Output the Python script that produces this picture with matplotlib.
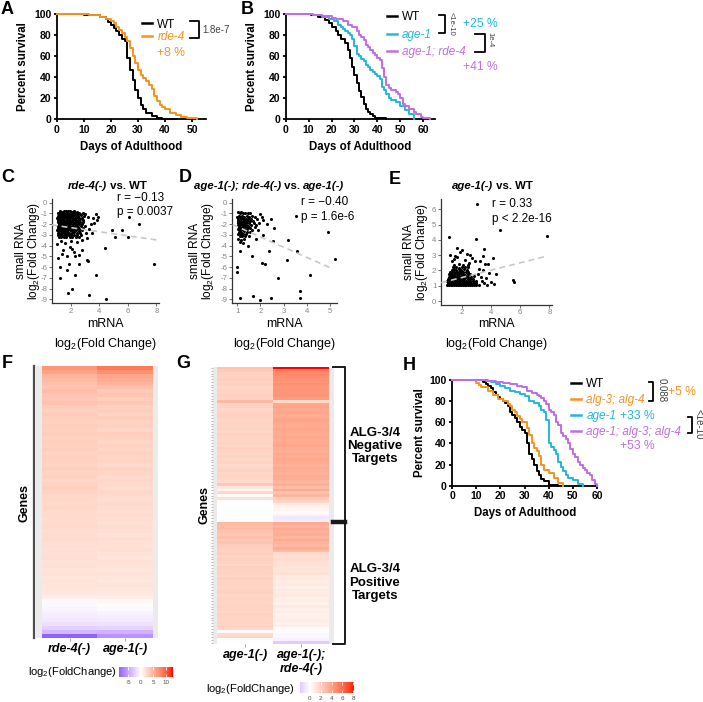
import numpy as np
import matplotlib
matplotlib.use('Agg')
import matplotlib.pyplot as plt
from matplotlib.colors import ListedColormap, Normalize
from matplotlib.cm import ScalarMappable

plt.rcParams['font.family'] = ['Liberation Sans', 'DejaVu Sans']
plt.rcParams['mathtext.fontset'] = 'custom'
plt.rcParams['mathtext.rm'] = 'Liberation Sans'
plt.rcParams['mathtext.it'] = 'Liberation Sans:italic'
plt.rcParams['mathtext.bf'] = 'Liberation Sans:bold'
plt.rcParams['axes.unicode_minus'] = False

ORANGE = '#F7931E'
CYAN = '#22B8DD'
PURPLE = '#C06EE5'

# ---- survival data (day, percent alive) ----
a_wt_days = [0, 10, 14, 16, 18, 19, 20, 21, 22, 23, 24, 25, 26, 27, 28, 29, 30, 31, 32, 33, 35, 37, 39, 44]
a_wt_surv = [100, 99.5, 99, 97, 95, 92, 90, 87, 84, 80, 76, 74, 58, 47, 37, 28, 20, 14, 10, 6, 3, 1.5, 0.5, 0]
a_rde_days = [0, 12, 16, 18, 20, 21, 22, 23, 24, 25, 26, 27, 28, 29, 30, 31, 32, 33, 34, 35, 36, 37, 38, 39, 40, 42, 44, 46, 48, 52]
a_rde_surv = [100, 99, 97, 95, 93, 91, 88, 85, 82, 78, 74, 68, 60, 53, 47, 42, 39, 36, 33, 29, 22, 17, 14, 12, 10, 6, 4, 2, 1, 0]

b_wt_days = [0, 11, 14, 17, 19, 20, 22, 23, 24, 26, 27, 28, 29, 30, 31, 32, 33, 34, 35, 36, 37, 38, 39, 40, 44]
b_wt_surv = [100, 99, 97, 94, 91, 88, 84, 80, 76, 72, 66, 58, 50, 42, 34, 27, 21, 15, 10, 7, 5, 3, 1.5, 0.8, 0]
b_age_days = [0, 12, 16, 19, 21, 23, 24, 25, 26, 27, 28, 29, 30, 31, 32, 33, 34, 35, 36, 37, 38, 39, 40, 41, 42, 43, 44, 45, 46, 48, 50, 52, 54, 56]
b_age_surv = [100, 99, 97, 95, 93, 90, 88, 86, 84, 82, 80, 76, 70, 62, 60, 57, 55, 52, 50, 47, 45, 43, 41, 38, 31, 28, 24, 20, 18, 16, 13, 9, 5, 0]
b_dbl_days = [0, 12, 16, 20, 22, 25, 27, 29, 31, 32, 33, 34, 35, 36, 37, 38, 39, 40, 41, 42, 43, 44, 45, 46, 48, 49, 50, 51, 52, 54, 56, 57, 59, 60, 63]
b_dbl_surv = [100, 99.5, 98, 96, 95, 93, 90, 88, 84, 80, 78, 75, 71, 69, 66, 63, 61, 58, 56, 49, 40, 33, 30, 28, 26, 24, 20, 15, 13, 10, 7, 5, 2, 1, 0]

h_wt_days = [0, 13, 14, 15, 16, 17, 18, 19, 20, 21, 22, 23, 24, 25, 26, 27, 28, 29, 30, 31, 32, 33, 34, 35, 36, 37, 38, 40, 44]
h_wt_surv = [100, 98, 96, 94, 92, 89, 86, 84, 82, 80, 78, 75, 70, 67, 64, 60, 56, 53, 50, 40, 30, 25, 20, 14, 10, 6, 4, 1, 0]
h_alg_days = [0, 10, 11, 12, 15, 17, 19, 21, 23, 24, 25, 26, 27, 28, 29, 31, 32, 33, 34, 35, 36, 37, 38, 40, 42, 44, 46]
h_alg_surv = [100, 97, 95, 93, 90, 86, 82, 80, 77, 75, 72, 70, 66, 63, 60, 55, 48, 40, 36, 33, 28, 20, 15, 12, 7, 3, 0]
h_age_days = [0, 14, 16, 18, 20, 22, 24, 26, 28, 30, 32, 34, 36, 37, 38, 39, 40, 41, 42, 43, 44, 45, 46, 47, 48, 50, 52, 54]
h_age_surv = [100, 99, 98, 96, 94, 92, 90, 89, 87, 85, 80, 78, 75, 72, 70, 62, 40, 37, 34, 30, 22, 18, 14, 10, 7, 5, 2, 0]
h_dbl_days = [0, 15, 18, 21, 24, 27, 29, 31, 33, 35, 36, 37, 38, 39, 40, 41, 42, 43, 44, 45, 46, 47, 48, 49, 50, 51, 52, 53, 54, 55, 56, 57, 58, 59, 60]
h_dbl_surv = [100, 99, 98, 97, 96, 94, 93, 90, 88, 86, 85, 83, 80, 77, 72, 70, 67, 60, 57, 50, 47, 44, 40, 35, 30, 27, 22, 20, 17, 15, 12, 10, 5, 2, 0]

# ---- scatter data (mRNA log2FC, small RNA log2FC) ----
c_pts = [
    (1.22, -0.78), (1.36, -0.85), (1.5, -0.8), (1.64, -0.76), (1.79, -0.83), (1.93, -0.79), (2.08, -0.86), (2.24, -0.8), (2.4, -0.9), (2.6, -0.95),
    (1.08, -1.02), (1.19, -0.98), (1.31, -1.05), (1.44, -1.0), (1.57, -1.03), (1.71, -0.97), (1.85, -1.04), (1.99, -1.0), (2.13, -1.06), (2.28, -0.99), (2.44, -1.03), (2.62, -1.08),
    (1.12, -1.22), (1.25, -1.18), (1.38, -1.24), (1.51, -1.2), (1.65, -1.16), (1.78, -1.23), (1.92, -1.19), (2.06, -1.25), (2.2, -1.2), (2.35, -1.17), (2.52, -1.24), (2.7, -1.2), (2.95, -1.25),
    (1.05, -1.4), (1.17, -1.43), (1.3, -1.38), (1.43, -1.42), (1.56, -1.39), (1.7, -1.44), (1.84, -1.4), (1.98, -1.37), (2.13, -1.43), (2.28, -1.4), (2.44, -1.36), (2.6, -1.42), (2.78, -1.45),
    (1.1, -1.6), (1.23, -1.57), (1.36, -1.63), (1.49, -1.59), (1.62, -1.62), (1.76, -1.58), (1.9, -1.64), (2.04, -1.6), (2.19, -1.57), (2.34, -1.63), (2.5, -1.6), (2.66, -1.56), (2.88, -1.62),
    (1.07, -1.82), (1.2, -1.78), (1.33, -1.8), (1.46, -1.84), (1.6, -1.79), (1.73, -1.83), (1.87, -1.78), (2.01, -1.81), (2.16, -1.85), (2.31, -1.79), (2.47, -1.82), (2.64, -1.78), (2.85, -1.84),
    (1.13, -2.0), (1.26, -2.04), (1.4, -1.98), (1.54, -2.02), (1.68, -1.97), (1.82, -2.03), (1.96, -1.99), (2.11, -2.04), (2.26, -2.0), (2.42, -1.97), (2.59, -2.03), (2.77, -2.0),
    (1.06, -2.2), (1.19, -2.23), (1.33, -2.18), (1.47, -2.22), (1.61, -2.19), (1.75, -2.24), (1.89, -2.2), (2.04, -2.17), (2.19, -2.23), (2.35, -2.2), (2.52, -2.25), (2.71, -2.19), (3.0, -2.22),
    (1.1, -2.4), (1.24, -2.44), (1.38, -2.38), (1.52, -2.42), (1.66, -2.4), (1.8, -2.45), (1.95, -2.39), (2.1, -2.43), (2.26, -2.4), (2.42, -2.37), (2.6, -2.43), (2.85, -2.4),
    (1.05, -2.6), (1.18, -2.63), (1.32, -2.58), (1.46, -2.62), (1.6, -2.6), (1.75, -2.65), (1.9, -2.59), (2.05, -2.63), (2.21, -2.6), (2.38, -2.56), (2.58, -2.62), (2.8, -2.6),
    (1.12, -2.8), (1.27, -2.84), (1.42, -2.78), (1.57, -2.82), (1.72, -2.79), (1.88, -2.85), (2.04, -2.8), (2.2, -2.77), (2.4, -2.83), (2.62, -2.8), (3.05, -2.86),
    (1.08, -3.0), (1.22, -3.04), (1.37, -2.98), (1.53, -3.03), (1.69, -3.0), (1.85, -3.05), (2.02, -2.99), (2.2, -3.02), (2.45, -3.0), (2.7, -3.06),
    (1.15, -3.2), (1.32, -3.24), (1.5, -3.18), (1.68, -3.22), (1.9, -3.25), (2.1, -3.2), (2.35, -3.23), (2.6, -3.2),
    (2.84, -0.93), (3.0, -1.1), (3.2, -1.3), (3.55, -1.4), (3.75, -1.05), (3.8, -1.6), (3.65, -1.9), (3.9, -1.3), (6.1, -1.37), (6.8, -2.0),
    (4.9, -2.6), (5.1, -3.2), (5.6, -2.6), (6.0, -3.2), (4.4, -4.2), (3.2, -5.4), (7.85, -5.7), (1.23, -7.05), (1.82, -8.45), (2.1, -8.0),
    (3.3, -8.6), (4.45, -9.0), (3.75, -6.75), (2.3, -6.75), (1.7, -6.3), (1.23, -5.96), (2.56, -5.75), (3.1, -5.3), (2.3, -5.0), (1.7, -5.0),
    (2.75, -4.4), (1.47, -4.4), (1.12, -5.2), (1.3, -3.6), (1.6, -3.8), (2.0, -3.55), (2.4, -3.7), (2.8, -3.5), (3.1, -3.3), (3.3, -2.5),
    (3.4, -2.0), (1.9, -4.1), (2.2, -4.6), (1.35, -4.8), (2.6, -4.9), (1.05, -3.9), (1.85, -5.7), (2.05, -4.3), (3.5, -2.8),
]
c_fit_x = [0.65, 8.0]
c_fit_y = [-2.08, -3.48]

d_pts = [
    (1.02, -0.92), (1.1, -0.98), (1.18, -0.9), (1.26, -1.0), (1.35, -0.95), (1.45, -1.02), (1.55, -0.97),
    (1.0, -1.3), (1.08, -1.25), (1.15, -1.32), (1.22, -1.27), (1.3, -1.33), (1.4, -1.28), (1.5, -1.31), (1.62, -1.26), (1.75, -1.34), (2.05, -1.3),
    (1.04, -1.5), (1.12, -1.55), (1.2, -1.48), (1.28, -1.53), (1.36, -1.5), (1.46, -1.56), (1.58, -1.5), (1.85, -1.53), (2.12, -1.6),
    (1.01, -1.7), (1.09, -1.74), (1.17, -1.68), (1.25, -1.72), (1.33, -1.7), (1.42, -1.75), (1.53, -1.69), (1.66, -1.73),
    (1.05, -1.9), (1.13, -1.94), (1.21, -1.88), (1.3, -1.92), (1.39, -1.9), (1.5, -1.95), (1.7, -1.9), (1.95, -1.93),
    (1.02, -2.1), (1.1, -2.13), (1.19, -2.08), (1.28, -2.12), (1.38, -2.1), (1.48, -2.15), (1.6, -2.09), (1.8, -2.12),
    (1.06, -2.3), (1.15, -2.33), (1.24, -2.28), (1.34, -2.32), (1.45, -2.3), (1.57, -2.35), (1.75, -2.3),
    (1.03, -2.5), (1.12, -2.54), (1.21, -2.48), (1.32, -2.52), (1.44, -2.5), (1.62, -2.55),
    (1.08, -2.7), (1.18, -2.74), (1.28, -2.68), (1.4, -2.72), (1.55, -2.7),
    (1.05, -2.9), (1.15, -2.94), (1.26, -2.88), (1.38, -2.92),
    (1.1, -3.1), (1.22, -3.15), (1.35, -3.08), (1.5, -3.12),
    (1.04, -3.4), (1.18, -3.45), (1.3, -3.38), (1.12, -3.7), (1.25, -3.75),
    (2.58, -2.4), (2.52, -3.6), (3.2, -3.5), (3.56, -4.47), (2.37, -4.47), (3.16, -5.34), (1.62, -5.0), (1.1, -4.5), (1.0, -5.96), (0.97, -6.5),
    (4.93, -2.7), (5.22, -5.28), (2.08, -5.65), (2.2, -5.7), (2.74, -7.05), (4.13, -6.74), (3.7, -8.2), (3.7, -8.9), (1.1, -8.9), (1.68, -8.7),
    (2.0, -9.07), (2.45, -8.9), (3.53, -1.24), (2.3, -2.0), (2.45, -1.55), (1.9, -2.6), (2.1, -3.0), (1.45, -4.0), (1.8, -3.4), (2.0, -1.1),
]
d_fit_x = [0.8, 5.1]
d_fit_y = [-2.06, -6.15]

e_pts = [
    (1.0, 1.04), (1.12, 1.02), (1.24, 1.05), (1.36, 1.03), (1.48, 1.06), (1.6, 1.02), (1.72, 1.04), (1.84, 1.05), (1.96, 1.02), (2.08, 1.04),
    (2.2, 1.06), (2.32, 1.03), (2.44, 1.05), (2.56, 1.02), (2.7, 1.04), (2.85, 1.06), (3.0, 1.03), (3.2, 1.05),
    (1.05, 1.17), (1.18, 1.2), (1.31, 1.15), (1.44, 1.18), (1.57, 1.16), (1.7, 1.21), (1.83, 1.17), (1.96, 1.14), (2.09, 1.19), (2.22, 1.16),
    (2.35, 1.2), (2.5, 1.15), (2.65, 1.18), (2.82, 1.16), (3.0, 1.19),
    (1.0, 1.3), (1.13, 1.33), (1.26, 1.28), (1.39, 1.32), (1.52, 1.3), (1.65, 1.34), (1.78, 1.29), (1.91, 1.31), (2.04, 1.28), (2.17, 1.33),
    (2.3, 1.3), (2.45, 1.27), (2.6, 1.32), (2.78, 1.3), (2.95, 1.33),
    (1.05, 1.45), (1.18, 1.48), (1.31, 1.43), (1.44, 1.47), (1.57, 1.45), (1.7, 1.49), (1.83, 1.44), (1.96, 1.46), (2.1, 1.43), (2.24, 1.48),
    (2.4, 1.45), (2.56, 1.42), (2.75, 1.47),
    (1.1, 1.6), (1.23, 1.63), (1.36, 1.58), (1.49, 1.62), (1.62, 1.6), (1.75, 1.64), (1.88, 1.59), (2.02, 1.61), (2.16, 1.58), (2.3, 1.63),
    (2.46, 1.6), (2.62, 1.57), (2.85, 1.62),
    (1.1, 1.75), (1.24, 1.78), (1.38, 1.73), (1.52, 1.77), (1.66, 1.75), (1.8, 1.79), (1.94, 1.74), (2.08, 1.76), (2.24, 1.73), (2.4, 1.78), (2.58, 1.75),
    (1.2, 1.9), (1.35, 1.93), (1.5, 1.88), (1.65, 1.92), (1.8, 1.9), (1.95, 1.94), (2.1, 1.89), (2.26, 1.91), (2.45, 1.88),
    (1.3, 2.05), (1.47, 2.08), (1.64, 2.03), (1.81, 2.07), (1.98, 2.05), (2.15, 2.09), (2.35, 2.04),
    (1.4, 2.2), (1.6, 2.23), (1.8, 2.18), (2.0, 2.22), (2.2, 2.2), (2.45, 2.24),
    (1.5, 2.38), (1.8, 2.4), (2.1, 2.36), (2.4, 2.39),
    (1.13, 4.16), (1.66, 3.5), (1.89, 3.2), (2.0, 3.33), (2.34, 3.05), (2.68, 2.79), (3.26, 2.61), (3.44, 2.94), (3.53, 3.38), (2.98, 4.05),
    (3.07, 6.38), (4.63, 4.68), (7.87, 4.25), (4.17, 2.79), (3.6, 2.42), (3.83, 2.42), (3.9, 1.81), (4.35, 1.74), (3.67, 1.48), (4.0, 1.26),
    (4.24, 1.1), (5.5, 1.37), (5.6, 1.26), (3.48, 2.03), (1.3, 2.6), (1.45, 2.75), (1.7, 2.9), (2.2, 2.7), (2.5, 2.5), (3.3, 1.6),
    (3.4, 1.3), (3.2, 2.1), (3.1, 1.8), (3.5, 1.15), (3.7, 1.05), (1.2, 3.0), (1.55, 2.95), (2.9, 2.6), (2.6, 3.0),
]
e_fit_x = [0.6, 7.7]
e_fit_y = [1.2, 2.91]

# ---- heatmap data (log2 fold change per gene, sorted) ----
f_labels = ['rde-4(-)', 'age-1(-)']
f_rde4 = [6.8, 6.0, 5.0, 4.6, 4.2, 3.9, 4.4, 3.8, 3.6, 4.0,
          3.3, 3.1, 3.5, 3.2, 3.0, 3.4, 3.1, 3.3, 2.9, 3.2,
          3.0, 3.3, 2.8, 3.1, 3.0, 2.9, 3.2, 2.8, 3.0, 2.7,
          2.9, 3.1, 2.8, 2.6, 2.7, 2.5, 2.6, 2.4, 2.5, 2.3,
          2.4, 2.5, 2.2, 2.3, 2.4, 2.1, 2.2, 2.0, 2.1, 2.2,
          1.9, 2.0, 1.8, 1.9, 1.7, 1.8, 1.6, 1.7, 1.5, 1.0,
          0.3, -0.4, -0.6, -0.8, -1.0, -1.3, -1.8, -2.6, -4.0, -8.7]
f_age1 = [8.5, 7.2, 5.8, 5.4, 5.0, 4.2, 3.5, 3.9, 3.2, 3.6,
          3.0, 3.4, 2.8, 3.3, 2.9, 3.1, 2.7, 3.2, 3.0, 2.6,
          2.9, 2.7, 3.0, 2.6, 2.8, 2.5, 2.9, 2.6, 2.4, 2.7,
          2.5, 2.3, 2.6, 2.4, 2.2, 2.5, 2.3, 2.1, 2.4, 2.2,
          2.0, 2.3, 2.1, 1.9, 2.2, 2.0, 1.8, 2.1, 1.9, 1.7,
          2.0, 1.8, 1.6, 1.9, 1.7, 1.5, 1.8, 1.6, 1.4, 1.2,
          0.5, 0.1, -0.3, -0.6, -0.9, -1.2, -1.6, -2.4, -4.2, -6.0]
f_lim = (-8.7, 12.8)
f_ticks = [-5, 0, 5, 10]

g_labels = ['age-1(-)', 'age-1(-);\nrde-4(-)']
g_age1_neg = [2.6, 2.3, 2.0, 1.9, 2.1, 1.8, 2.0, 1.7, 1.9, 1.8,
              2.0, 1.8, 3.0, 1.8, 1.9, 1.7, 1.9, 2.0, 1.8, 1.7,
              1.9, 1.8, 1.9, 1.7, 2.0, 1.8, 1.7, 1.9, 1.7, 2.0,
              1.8, 1.7, 1.9, 1.7, 1.8, 1.6, 1.7, 1.9, 1.7, 1.8,
              1.7, 1.6, 2.4, 1.1, 0.4, 1.7, 0.2, 1.4, 0.1, 0.0,
              0.0, 0.0, 0.0, 0.0, 0.0, 0.0]
g_dbl_neg = [8.2, 5.2, 4.9, 4.7, 4.6, 4.4, 4.6, 4.3, 4.5, 4.4,
             4.5, 4.2, 1.6, 3.7, 3.9, 3.6, 3.8, 3.5, 3.7, 3.9,
             3.6, 3.5, 3.8, 3.6, 3.5, 3.7, 3.4, 3.6, 3.8, 3.5,
             3.4, 3.6, 3.5, 3.7, 3.5, 3.3, 3.6, 3.4, 3.3, 3.5,
             3.4, 3.2, 3.4, 2.8, 3.6, 2.5, 3.2, 2.2, 1.8, 0.9,
             0.6, 0.4, 0.2, -0.4, -0.8, -0.6]
g_age1_pos = [3.0, 2.8, 2.9, 2.6, 2.4, 2.7, 2.3, 2.5, 2.2, 2.0,
              1.9, 2.1, 1.8, 2.0, 1.9, 1.7, 2.0, 1.8, 1.9, 1.7,
              2.0, 1.8, 1.9, 1.7, 1.8, 2.0, 1.7, 1.9, 1.8, 1.7,
              1.9, 1.8, 1.7, 1.9, 1.8, 1.7, 1.8, 1.9, 1.7, 0.2,
              1.6, 1.8, 0.1, 0.0]
g_dbl_pos = [3.6, 3.2, 3.7, 3.3, 3.5, 3.1, 3.6, 3.2, 3.0, 3.4,
             2.9, 1.6, 1.4, 1.5, 1.3, 1.4, 1.2, 1.1, 1.3, 0.9,
             1.0, 0.8, 0.9, 0.7, 1.0, 0.8, 0.9, 0.7, 0.8, 0.6,
             0.9, 0.7, 0.8, 0.6, 0.7, 0.8, 0.6, 0.7, 0.2, -0.1,
             -0.3, -0.2, -0.5, -1.85]
g_lim = (-1.85, 8.2)
g_ticks = [0, 2, 4, 6, 8]

# ---- figure geometry (pixels) ----
W, H = 703, 702
fig = plt.figure(figsize=(W / 100, H / 100), dpi=100)


def px_axes(left, top, right, bottom, **kw):
    return fig.add_axes([left / W, 1 - bottom / H, (right - left) / W, (bottom - top) / H], **kw)


# overlay in pixel coordinates for free text and brackets
ov = px_axes(0, 0, W, H, zorder=20)
ov.set_xlim(0, W)
ov.set_ylim(H, 0)
ov.axis('off')
ov.patch.set_alpha(0)


def txt(x, y, s, **kw):
    kw.setdefault('ha', 'center')
    kw.setdefault('va', 'center')
    return ov.text(x, y, s, **kw)


def mixed_title(x, y, parts, size=8.2):
    prev = None
    for s, style in parts:
        kw = dict(fontsize=size, fontweight='bold', fontstyle=style, va='center', ha='left')
        if prev is None:
            prev = ov.text(x, y, s, **kw)
        else:
            prev = ov.annotate(s, xy=(1, 0.5), xycoords=prev, **kw)


# ---- Lab-interpolated blue-white-red scale ----
M = np.array([[0.4124564, 0.3575761, 0.1804375],
              [0.2126729, 0.7151522, 0.0721750],
              [0.0193339, 0.1191920, 0.9503041]])
REF = np.array([0.95047, 1.0, 1.08883])


def to_lab(rgb):
    c = np.array(rgb, float)
    lin = np.where(c <= 0.04045, c / 12.92, ((c + 0.055) / 1.055) ** 2.4)
    xyz = M @ lin / REF
    f = np.where(xyz > 0.008856, np.cbrt(xyz), 7.787 * xyz + 16 / 116)
    return np.array([116 * f[1] - 16, 500 * (f[0] - f[1]), 200 * (f[1] - f[2])])


def from_lab(lab):
    L, a, b = lab
    fy = (L + 16) / 116
    f = np.array([fy + a / 500, fy, fy - b / 200])
    xyz = np.where(f ** 3 > 0.008856, f ** 3, (f - 16 / 116) / 7.787) * REF
    lin = np.clip(np.linalg.solve(M, xyz), 0, 1)
    return np.clip(np.where(lin <= 0.0031308, 12.92 * lin, 1.055 * lin ** (1 / 2.4) - 0.055), 0, 1)


lo_c, mid_c, hi_c = to_lab((0, 0, 1)), to_lab((1, 1, 1)), to_lab((1, 0, 0))
cols = []
for t in np.linspace(0, 1, 256):
    if t < 0.5:
        cols.append(from_lab(lo_c + (mid_c - lo_c) * t / 0.5))
    else:
        cols.append(from_lab(mid_c + (hi_c - mid_c) * (t - 0.5) / 0.5))
cmap = ListedColormap(cols)


# ---- survival panels ----
def survival(ax, curves, xmax, xticks):
    for days, surv, color, label in curves:
        ax.step(days, surv, where='post', color=color, lw=1.4, label=label, clip_on=False, zorder=3)
    ax.set_xlim(0, xmax)
    ax.set_ylim(0, 100)
    ax.set_xticks(xticks, [str(t) for t in xticks], fontweight='bold')
    ax.set_yticks(range(0, 101, 20), [str(t) for t in range(0, 101, 20)], fontweight='bold')
    for s in ['top', 'right']:
        ax.spines[s].set_visible(False)
    for s in ['left', 'bottom']:
        ax.spines[s].set_linewidth(1.3)
    ax.tick_params(width=1.3, length=2.5, labelsize=7.5, pad=1.5)
    ax.patch.set_alpha(0)


def legend_at(ax, x, y, spacing, italic_idx):
    leg = ax.legend(loc='upper left', bbox_to_anchor=(x / W, 1 - y / H), bbox_transform=fig.transFigure,
                    frameon=False, fontsize=8.5, handlelength=0.85, handletextpad=0.45,
                    labelspacing=spacing, borderpad=0, borderaxespad=0, labelcolor='linecolor')
    for i in italic_idx:
        leg.get_texts()[i].set_style('italic')
    for h in leg.legend_handles:
        h.set_linewidth(1.8)
    return leg


axA = px_axes(57, 14, 205.5, 119.3)
survival(axA, [(a_wt_days, a_wt_surv, 'black', 'WT'),
               (a_rde_days, a_rde_surv, ORANGE, 'rde-4')], 55, range(0, 51, 10))
legend_at(axA, 142, 18.5, 0.05, [1])
ov.plot([190, 199, 199, 190], [20.7, 20.7, 37.7, 37.7], color='black', lw=1.3)
txt(202, 30, '1.8e-7', ha='left', fontsize=7, color='#404040')
txt(157, 53.3, '+8 %', ha='left', fontsize=8.7, color=ORANGE)

axB = px_axes(285.7, 14, 434.6, 119.3)
survival(axB, [(b_wt_days, b_wt_surv, 'black', 'WT'),
               (b_age_days, b_age_surv, CYAN, 'age-1'),
               (b_dbl_days, b_dbl_surv, PURPLE, 'age-1; rde-4')], 65, range(0, 61, 10))
legend_at(axB, 386.7, 11.5, 0.46, [1, 2])
ov.plot([439, 445, 445, 439], [15, 15, 33.3, 33.3], color='black', lw=1.3)
ov.plot([475, 485, 485, 475], [34.3, 34.3, 51.7, 51.7], color='black', lw=1.3)
txt(451, 24, '<1e-10', rotation=270, fontsize=5.5, color='#404040')
txt(490, 40, '1e-4', rotation=270, fontsize=5.5, color='#404040')
txt(462.7, 24, '+25 %', ha='left', fontsize=8.7, color=CYAN)
txt(462.7, 66.7, '+41 %', ha='left', fontsize=8.7, color=PURPLE)

axH = px_axes(452, 380, 597, 485.7)
survival(axH, [(h_wt_days, h_wt_surv, 'black', 'WT'),
               (h_alg_days, h_alg_surv, ORANGE, 'alg-3; alg-4'),
               (h_age_days, h_age_surv, CYAN, 'age-1'),
               (h_dbl_days, h_dbl_surv, PURPLE, 'age-1; alg-3; alg-4')], 60, range(0, 61, 10))
legH = legend_at(axH, 571, 378, 0.33, [1, 2, 3])
ov.annotate('+33 %', xy=(1, 0.5), xycoords=legH.get_texts()[2], xytext=(3, 0),
            textcoords='offset points', va='center', fontsize=8.7, color=CYAN)
ov.plot([649, 653.3, 653.3, 649], [382.3, 382.3, 401, 401], color='black', lw=1.3)
ov.plot([687.7, 691.7, 691.7, 687.7], [417.3, 417.3, 433.3, 433.3], color='black', lw=1.3)
txt(661.7, 390, '0.088', rotation=270, fontsize=7, color='#404040')
txt(698.5, 424, '<1e-10', rotation=270, fontsize=7, color='#404040')
txt(668, 391.7, '+5 %', ha='left', fontsize=8.7, color=ORANGE)
txt(620, 446, '+53 %', ha='left', fontsize=8.7, color=PURPLE)

for x, y in [(22.7, 66.5), (251.7, 66.5), (420, 433)]:
    txt(x, y, 'Percent survival', rotation=90, fontsize=8.3, fontweight='bold')
for x, y in [(131, 146.7), (360.5, 146.7), (525, 512.7)]:
    txt(x, y, 'Days of Adulthood', fontsize=8.3, fontweight='bold')


# ---- scatter panels ----
def scatter(ax, pts, fit_x, fit_y, xlim, ylim, xticks, yticks):
    x, y = np.array(pts).T
    ax.scatter(x, y, s=5, color='black', linewidths=0, zorder=2)
    ax.plot(fit_x, fit_y, color='#C8C8C8', lw=1.2, dashes=(3.5, 2.5), zorder=3)
    ax.set_xlim(xlim)
    ax.set_ylim(ylim)
    ax.set_xticks(xticks, [str(t) for t in xticks])
    ax.set_yticks(yticks, [str(t) for t in yticks])
    for s in ['top', 'right']:
        ax.spines[s].set_visible(False)
    for s in ['left', 'bottom']:
        ax.spines[s].set_linewidth(0.9)
        ax.spines[s].set_color('#333333')
    ax.tick_params(length=2, width=0.6, color='#555555', labelsize=5.6, labelcolor='#858585', pad=1.2)
    ax.patch.set_alpha(0)


axC = px_axes(51.7, 199.3, 159.3, 303.3)
scatter(axC, c_pts, c_fit_x, c_fit_y, (0.65, 8.2), (-9.37, 0.3), [2, 4, 6, 8], list(range(0, -10, -1)))
axD = px_axes(231.7, 199.3, 337.3, 303.3)
scatter(axD, d_pts, d_fit_x, d_fit_y, (0.76, 5.31), (-9.37, 0.3), [1, 2, 3, 4, 5], list(range(0, -10, -1)))
axE = px_axes(440.7, 199.3, 551.7, 305)
scatter(axE, e_pts, e_fit_x, e_fit_y, (0.56, 8.16), (-0.26, 6.66), [2, 4, 6, 8], list(range(0, 7)))

mixed_title(68, 186, [('rde-4(-)', 'italic'), (' vs. WT', 'normal')])
mixed_title(194, 186, [('age-1(-); rde-4(-)', 'italic'), (' vs. ', 'normal'), ('age-1(-)', 'italic')])
mixed_title(452, 186, [('age-1(-)', 'italic'), (' vs. WT', 'normal')])

txt(117, 197.7, 'r = \u22120.13', ha='left', fontsize=8.5)
txt(117, 212.3, 'p = 0.0037', ha='left', fontsize=8.5)
txt(301, 201.7, 'r = \u22120.40', ha='left', fontsize=8.5)
txt(301, 216.7, 'p = 1.6e-6', ha='left', fontsize=8.5)
txt(492.3, 204, 'r = 0.33', ha='left', fontsize=8.5)
txt(492.3, 219, 'p < 2.2e-16', ha='left', fontsize=8.5)

for x1, x2, yc in [(20.5, 33.5, 251.3), (195.5, 208.5, 251.3), (408.5, 421.5, 252)]:
    txt(x1, yc, 'small RNA', rotation=90, fontsize=8.6)
    txt(x2, yc, 'log$_2$(Fold Change)', rotation=90, fontsize=8.6)
for xc in [105.5, 284.5, 496.2]:
    txt(xc, 324, 'mRNA', fontsize=9)
    txt(xc, 343.5, 'log$_2$(Fold Change)', fontsize=9)


# ---- heatmaps ----
def heatmap(ax, data, labels, lim):
    n = data.shape[0]
    L = max(abs(lim[0]), abs(lim[1]))
    ax.set_facecolor('#EBEBEB')
    ax.pcolormesh(np.arange(3) - 0.5, np.arange(n + 1), data, cmap=cmap, norm=Normalize(-L, L),
                  edgecolors='none', antialiased=False)
    ax.set_ylim(n, 0)
    ax.set_xticks([0, 1], labels, fontstyle='italic', fontweight='bold', fontsize=9)
    ax.tick_params(axis='x', length=2, width=0.5, color='#7F7F7F', pad=1.5)
    for s in ax.spines.values():
        s.set_visible(False)


def colorbar(cax, lim, ticks):
    L = max(abs(lim[0]), abs(lim[1]))
    sm = ScalarMappable(norm=Normalize(-L, L), cmap=cmap)
    cb = fig.colorbar(sm, cax=cax, orientation='horizontal', boundaries=np.linspace(lim[0], lim[1], 160))
    cb.outline.set_visible(False)
    cb.set_ticks(ticks, labels=[str(t) for t in ticks])
    cax.tick_params(axis='x', direction='in', length=2.2, width=0.6, color='white', top=True,
                    labelsize=4.5, labelcolor='#4D4D4D', pad=2)


f_data = np.column_stack([f_rde4, f_age1])
axF = px_axes(36, 366, 158.3, 637.7)
heatmap(axF, f_data, f_labels, f_lim)
axF.set_xlim(-0.6, 1.59)
axF.set_yticks([])
axF.spines['left'].set_visible(True)
axF.spines['left'].set_position(('outward', 1.2))
axF.spines['left'].set_linewidth(1.6)
axF.spines['left'].set_color('#4D4D4D')

g_data = np.column_stack([g_age1_neg + g_age1_pos, g_dbl_neg + g_dbl_pos])
axG = px_axes(212.7, 366.7, 334.3, 644)
heatmap(axG, g_data, g_labels, g_lim)
axG.set_xlim(-0.58, 1.59)
axG.set_yticks(np.arange(g_data.shape[0]) + 0.5, [])
axG.tick_params(axis='y', length=1.2, width=0.5, color='#A0A0A0')

txt(25, 503, 'Genes', rotation=90, fontsize=9, fontweight='bold')
txt(205, 505, 'Genes', rotation=90, fontsize=9, fontweight='bold')

ov.plot([333, 345, 345, 333], [366.7, 366.7, 644, 644], color='#1A1A1A', lw=1.4)
ov.plot([333, 345], [521.7, 521.7], color='#1A1A1A', lw=3.2)
txt(375, 446, 'ALG-3/4\nNegative\nTargets', fontsize=9.5, fontweight='bold', linespacing=1.15)
txt(375, 582.7, 'ALG-3/4\nPositive\nTargets', fontsize=9.5, fontweight='bold', linespacing=1.15)

caxF = px_axes(119, 666.7, 172.7, 677.3)
colorbar(caxF, f_lim, f_ticks)
caxG = px_axes(300, 682.3, 354.3, 693.3)
colorbar(caxG, g_lim, g_ticks)
txt(117, 671.7, 'log$_2$(FoldChange)', ha='right', fontsize=8)
txt(295, 689.3, 'log$_2$(FoldChange)', ha='right', fontsize=8)

# ---- panel letters ----
for letter, x, y in [('A', 7, 10), ('B', 247, 10), ('C', 7.5, 177), ('D', 185, 177), ('E', 395, 179),
                     ('F', 7, 363), ('G', 183, 364), ('H', 409, 365)]:
    txt(x, y, letter, fontsize=13, fontweight='bold')

fig.savefig('out.png', dpi=100)
